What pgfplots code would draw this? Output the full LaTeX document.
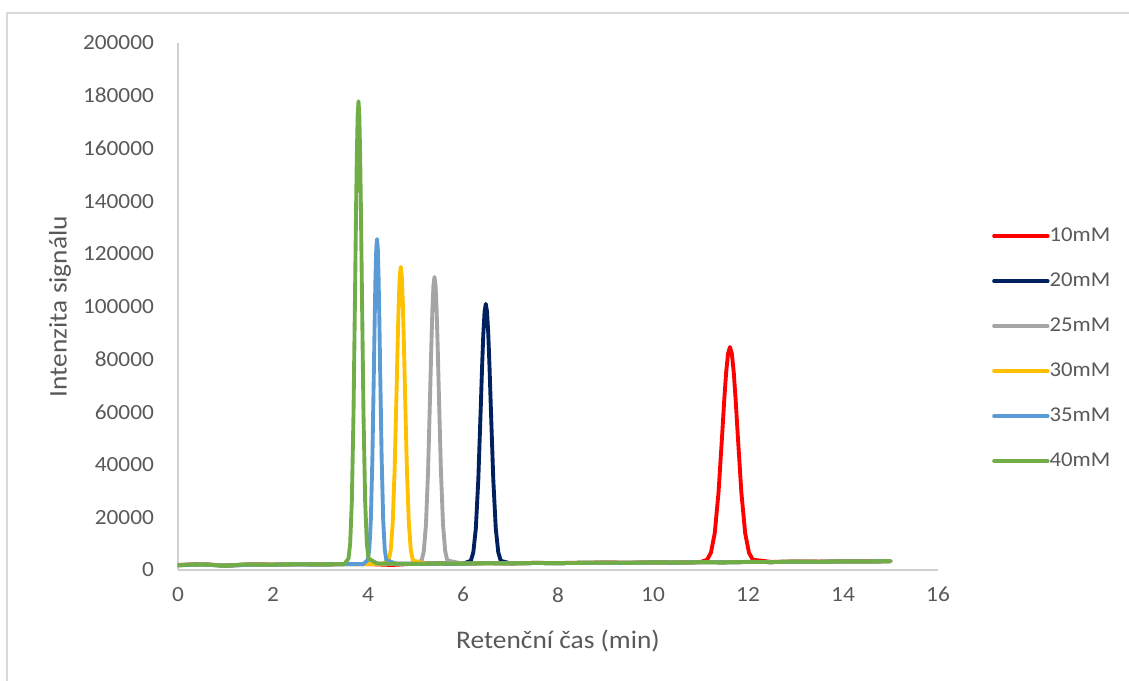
\documentclass[border=0pt]{standalone}
\usepackage{fontspec}
\setmainfont[FakeStretch=1.08]{Carlito}
\usepackage{pgfplots}
\pgfplotsset{compat=1.18}
\definecolor{txt}{HTML}{595959}
\definecolor{axl}{HTML}{D0D0D0}
\definecolor{c10}{HTML}{FF0000}
\definecolor{c20}{HTML}{002060}
\definecolor{c25}{HTML}{A5A5A5}
\definecolor{c30}{HTML}{FFC000}
\definecolor{c35}{HTML}{5B9BD5}
\definecolor{c40}{HTML}{70AD47}
\begin{document}
\begin{tikzpicture}
\useasboundingbox (-133.5pt,-83.25pt) rectangle (713.25pt,427.5pt);
\draw[color=axl!80, line width=1pt] (-128.25pt,-83.25pt) -- (-128.25pt,417.75pt) -- (713.25pt,417.75pt);
\begin{axis}[
  at={(0,0)}, anchor=origin,
  scale only axis, width=570pt, height=395.25pt,
  xmin=0, xmax=16, ymin=0, ymax=200000,
  xtick={0,2,...,16}, ytick={0,20000,...,200000},
  scaled y ticks=false,
  /pgf/number format/.cd, fixed, 1000 sep={}, assume math mode=true,
  /pgfplots/.cd,
  axis x line*=bottom, axis y line*=left,
  axis line style={color=axl, line width=1.5pt, -},
  major tick length=0pt,
  tick label style={font=\fontsize{16.2}{19}\selectfont, color=txt},
  xticklabel style={anchor=north, yshift=-9.5pt},
  yticklabel style={anchor=east, xshift=-14.5pt},
  every axis x label/.style={at={([yshift=-53pt]axis description cs:0.5,0)}, anchor=center, font=\fontsize{19}{22}\selectfont, color=txt},
  every axis y label/.style={at={([xshift=-88.5pt]axis description cs:0,0.5)}, rotate=90, anchor=center, font=\fontsize{19}{22}\selectfont, color=txt},
  xlabel={Retenční čas (min)},
  ylabel={Intenzita signálu},
  legend style={draw=none, fill=none, inner sep=0pt, at={(axis description cs:1.071,0.42)}, anchor=west,
    font=\fontsize{15.8}{18}\selectfont, text=txt, row sep=20.25pt,
    nodes={text height=10.5pt, text depth=3pt, inner sep=0pt}},
  legend cell align=left,
  legend image code/.code={\draw[#1, line width=2.5pt] (0pt,0pt) -- (40.5pt,0pt);},
  /tikz/every even column/.append style={column sep=4pt},
  every axis plot/.append style={line width=2.9pt, line join=round, line cap=round, no markers},
]
% 10 mM
\addplot[c10] coordinates {
(0,1900) (0.5,2200) (1,1700) (1.5,2100) (2,2050) (2.5,2250) (3,2150) (3.5,2300) (4,2250) (4.5,1900) (5,2400) (5.5,2500) (6,2450) (6.5,2600) (7,2550) (7.5,2700) (8,2650) (8.5,2750) (9,2800) (9.5,2750) (10,2900) (10.5,2850) (11,3000)
(11.14,3905) (11.22,6580) (11.30,14040) (11.38,29500) (11.46,52490) (11.50,64590) (11.54,75010) (11.58,82090) (11.62,84600) (11.66,82090) (11.70,75010) (11.74,64590) (11.78,52490) (11.86,29500) (11.94,14040) (12.02,6580) (12.10,3905)
(12.5,3050) (13,3200) (13.5,3150) (14,3300) (14.5,3250) (15,3400)};
\addlegendentry{10mM}
% 20 mM
\addplot[c20] coordinates {
(0,1850) (0.5,2150) (1,1650) (1.5,2050) (2,2000) (2.5,2200) (3,2100) (3.5,2250) (4,2300) (4.5,2350) (5,2350) (5.5,2450) (6,2400)
(6.165,3490) (6.2175,6730) (6.27,15740) (6.3225,34420) (6.375,62200) (6.4013,76820) (6.4275,89420) (6.4538,97960) (6.48,101000) (6.5063,97960) (6.5325,89420) (6.5588,76820) (6.585,62200) (6.6375,34420) (6.69,15740) (6.7425,6730) (6.795,3490)
(7,2500) (7.5,2650) (8,2600) (8.5,2700) (9,2750) (9.5,2700) (10,2850) (10.5,2800) (11,2950) (11.5,2900) (12,3050) (12.5,3000) (13,3150) (13.5,3100) (14,3250) (14.5,3200) (15,3350)};
\addlegendentry{20mM}
% 25 mM
\addplot[c25] coordinates {
(0,1800) (0.5,2100) (1,1600) (1.5,2000) (2,2000) (2.5,2150) (3,2100) (3.5,2200) (4,2250) (4.5,2300) (5,2350)
(5.13,3610) (5.175,7180) (5.22,17120) (5.265,37730) (5.31,68390) (5.3325,84520) (5.355,98420) (5.3775,107850) (5.40,111200) (5.4225,107850) (5.445,98420) (5.4675,84520) (5.49,68390) (5.535,37730) (5.58,17120) (5.625,7180) (5.67,3610)
(6,2400) (6.5,2550) (7,2500) (7.5,2650) (8,2600) (8.5,2700) (9,2750) (9.5,2700) (10,2850) (10.5,2800) (11,2950) (11.5,2900) (12,3050) (12.5,3000) (13,3150) (13.5,3100) (14,3250) (14.5,3200) (15,3350)};
\addlegendentry{25mM}
% 30 mM
\addplot[c30] coordinates {
(0,1850) (0.5,2150) (1,1700) (1.5,2050) (2,2050) (2.5,2200) (3,2150) (3.5,2250) (4,2250) (4.3,2300)
(4.435,3650) (4.4775,7340) (4.52,17630) (4.5625,38960) (4.605,70690) (4.6263,87390) (4.6475,101770) (4.6688,111530) (4.69,115000) (4.7113,111530) (4.7325,101770) (4.7538,87390) (4.775,70690) (4.8175,38960) (4.86,17630) (4.9025,7340) (4.945,3650)
(5.2,2400) (5.5,2450) (6,2450) (6.5,2550) (7,2500) (7.5,2650) (8,2600) (8.5,2700) (9,2750) (9.5,2700) (10,2850) (10.5,2800) (11,2950) (11.5,2900) (12,3050) (12.5,3000) (13,3150) (13.5,3100) (14,3250) (14.5,3200) (15,3350)};
\addlegendentry{30mM}
% 35 mM
\addplot[c35] coordinates {
(0,1800) (0.5,2100) (1,1650) (1.5,2000) (2,2000) (2.5,2150) (3,2100) (3.5,2200) (3.9,2250)
(3.995,3770) (4.0275,7810) (4.06,19070) (4.0925,42400) (4.125,77120) (4.1413,95390) (4.1575,111120) (4.1738,121810) (4.19,125600) (4.2063,121810) (4.2225,111120) (4.2388,95390) (4.255,77120) (4.2875,42400) (4.32,19070) (4.3525,7810) (4.385,3770)
(4.6,2350) (5,2350) (5.5,2450) (6,2400) (6.5,2550) (7,2500) (7.5,2650) (8,2600) (8.5,2700) (9,2750) (9.5,2700) (10,2850) (10.5,2800) (11,2950) (11.5,2900) (12,3050) (12.5,3000) (13,3150) (13.5,3100) (14,3250) (14.5,3200) (15,3350)};
\addlegendentry{35mM}
% 40 mM
\addplot[c40] coordinates {
(0,1800) (0.25,2000) (0.5,2100) (0.75,1900) (1,1500) (1.25,2000) (1.5,2100) (2,2000) (2.5,2200) (3,2100) (3.5,2200)
(3.59,4350) (3.625,10100) (3.66,26150) (3.695,59390) (3.73,108840) (3.7475,134870) (3.765,157280) (3.7825,172490) (3.80,177900) (3.8175,172490) (3.835,157280) (3.8525,134870) (3.87,108840) (3.905,59390) (3.94,26150) (3.975,10100) (4.01,4350)
(4.2,2400) (4.5,2400) (5,2300) (5.5,2500) (6,2400) (6.5,2600) (7,2500) (7.5,2700) (8,2600) (8.5,2700) (9,2800) (9.5,2700) (10,2900) (10.5,2800) (11,3000) (11.5,2900) (12,3100) (12.5,3000) (13,3200) (13.5,3100) (14,3300) (14.5,3200) (15,3400)};
\addlegendentry{40mM}
\end{axis}
\end{tikzpicture}
\end{document}
